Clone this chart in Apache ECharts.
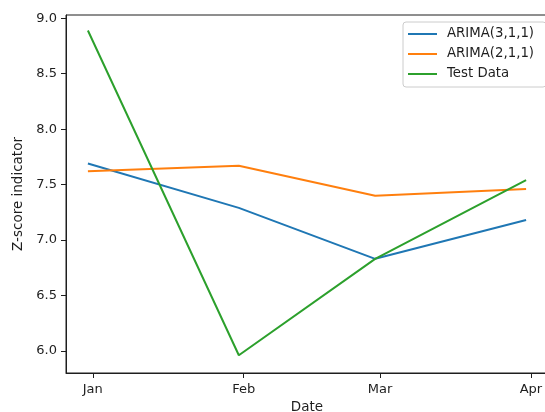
<!DOCTYPE html>
<html>
<head>
<meta charset="utf-8">
<script src="https://cdn.jsdelivr.net/npm/echarts@6/dist/echarts.min.js"></script>
<style>
  html, body { margin: 0; padding: 0; background: #fff; }
  #chart { width: 545px; height: 412px; }
</style>
</head>
<body>
<div id="chart"></div>
<script>
  // month-end dates of each observation
  var dates = ['2022-12-31', '2023-01-31', '2023-02-28', '2023-03-31'];
  var arima311 = [7.69, 7.29, 6.83, 7.18];
  var arima211 = [7.62, 7.67, 7.40, 7.46];
  var testData = [8.89, 5.96, 6.83, 7.54];
  var monthTicks = ['2023-01-01', '2023-02-01', '2023-03-01', '2023-04-01'];
  var monthNames = ['Jan', 'Feb', 'Mar', 'Apr', 'May', 'Jun', 'Jul', 'Aug', 'Sep', 'Oct', 'Nov', 'Dec'];
  var yTicks = [6.0, 6.5, 7.0, 7.5, 8.0, 8.5, 9.0];

  var DAY = 24 * 3600 * 1000;
  function ts(s) { return Date.parse(s + 'T00:00:00Z'); }
  function pairs(vals) {
    return dates.map(function (d, i) { return [ts(d), vals[i]]; });
  }

  var ink = '#1e1e1e', font = 'DejaVu Sans';
  var chart = echarts.init(document.getElementById('chart'));

  // time stamps on a plain value axis, so the month ticks can be placed exactly
  chart.setOption({
    animation: false,
    textStyle: { fontFamily: font },
    grid: {
      left: 66, top: 15, width: 482, height: 358,
      outerBoundsMode: 'none', containLabel: false,
      show: true, borderColor: ink, borderWidth: 1, backgroundColor: '#fff'
    },
    legend: {
      left: 403, top: 22,
      orient: 'vertical',
      icon: 'rect',
      itemWidth: 29, itemHeight: 2, itemGap: 4,
      padding: [4, 12, 5, 5],
      backgroundColor: '#fff',
      borderColor: '#cccccc', borderWidth: 1, borderRadius: 3,
      textStyle: { fontFamily: font, fontSize: 13.3, color: ink, lineHeight: 16, padding: [0, 0, 0, 5] }
    },
    xAxis: {
      type: 'value',
      min: ts(dates[0]) - 4.5 * DAY,
      max: ts(dates[dates.length - 1]) + 4.5 * DAY,
      name: 'Date', nameLocation: 'middle', nameGap: 26,
      nameTextStyle: { fontFamily: font, fontSize: 13.5, color: ink },
      axisLine: { show: true, lineStyle: { color: ink, width: 1 } },
      axisTick: { show: true, length: 5, lineStyle: { color: ink }, customValues: monthTicks.map(ts) },
      axisLabel: {
        margin: 10, fontSize: 13, color: ink, fontFamily: font,
        customValues: monthTicks.map(ts),
        formatter: function (v) { return monthNames[new Date(v).getUTCMonth()]; }
      },
      splitLine: { show: false }
    },
    yAxis: {
      type: 'value',
      min: 5.80, max: 9.03,
      name: 'Z-score indicator', nameLocation: 'middle', nameGap: 36,
      nameTextStyle: { fontFamily: font, fontSize: 13.5, color: ink },
      axisLine: { show: true, lineStyle: { color: ink, width: 1 } },
      axisTick: { show: true, length: 5, lineStyle: { color: ink }, customValues: yTicks },
      axisLabel: {
        margin: 9, fontSize: 13, color: ink, fontFamily: font,
        customValues: yTicks,
        formatter: function (v) { return v.toFixed(1); }
      },
      splitLine: { show: false }
    },
    series: [
      { name: 'ARIMA(3,1,1)', type: 'line', data: pairs(arima311), showSymbol: false,
        color: '#1f77b4', lineStyle: { width: 2 } },
      { name: 'ARIMA(2,1,1)', type: 'line', data: pairs(arima211), showSymbol: false,
        color: '#ff7f0e', lineStyle: { width: 2 } },
      { name: 'Test Data', type: 'line', data: pairs(testData), showSymbol: false,
        color: '#2ca02c', lineStyle: { width: 2 } }
    ]
  });
</script>
</body>
</html>
